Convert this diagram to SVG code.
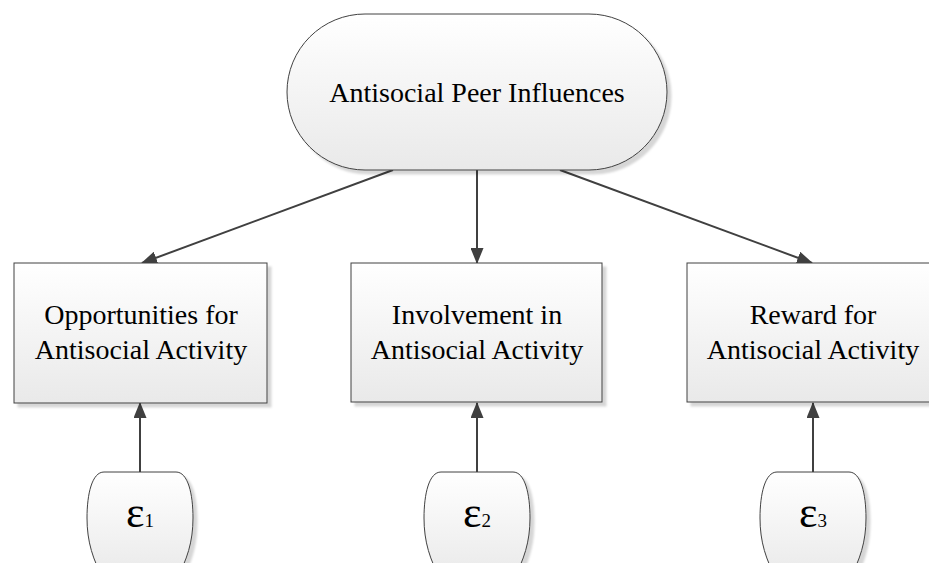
<svg xmlns="http://www.w3.org/2000/svg" width="929" height="563" viewBox="0 0 929 563">
  <defs>
    <linearGradient id="nodeFill" x1="0" y1="0" x2="0" y2="1">
      <stop offset="0" stop-color="#ffffff"/>
      <stop offset="1" stop-color="#e9e9e9"/>
    </linearGradient>
    <filter id="shadow" x="-10%" y="-10%" width="130%" height="130%">
      <feGaussianBlur in="SourceAlpha" stdDeviation="1.2"/>
      <feOffset dx="4" dy="4" result="off"/>
      <feFlood flood-color="#000000" flood-opacity="0.16"/>
      <feComposite in2="off" operator="in"/>
      <feMerge>
        <feMergeNode/>
        <feMergeNode in="SourceGraphic"/>
      </feMerge>
    </filter>
    <marker id="arrow" viewBox="0 0 16 13" refX="15" refY="6.5" markerWidth="16" markerHeight="13" markerUnits="userSpaceOnUse" orient="auto">
      <path d="M0,0 L16,6.5 L0,13 Z" fill="#404040"/>
    </marker>
  </defs>
  <style>
    .shape { fill: url(#nodeFill); stroke: #404040; stroke-width: 1; filter: url(#shadow); }
    .edge { stroke: #404040; stroke-width: 2; fill: none; marker-end: url(#arrow); }
  </style>

  <rect width="929" height="563" fill="#ffffff"/>

  <!-- connectors -->
  <g id="connectors">
    <line class="edge" x1="393" y1="170" x2="142" y2="263"/>
    <line class="edge" x1="477" y1="170" x2="477" y2="263"/>
    <line class="edge" x1="560" y1="170" x2="812" y2="263"/>
    <line class="edge" x1="140" y1="472" x2="140" y2="403"/>
    <line class="edge" x1="477" y1="472" x2="477" y2="403"/>
    <line class="edge" x1="813" y1="472" x2="813" y2="403"/>
  </g>

  <g font-family="Liberation Serif, Times New Roman, serif" font-size="28" fill="#000000" text-anchor="middle">
    <!-- latent factor -->
    <g id="peer-influences">
      <rect class="shape" x="287" y="14" width="380" height="156" rx="78" ry="78"/>
      <text x="477" y="102">Antisocial Peer Influences</text>
    </g>

    <!-- indicators -->
    <g id="opportunities">
      <rect class="shape" x="14" y="263" width="253" height="140"/>
      <text x="141" y="324">Opportunities for</text>
      <text x="141" y="359">Antisocial Activity</text>
    </g>
    <g id="involvement">
      <rect class="shape" x="351" y="263" width="251" height="139"/>
      <text x="477" y="324">Involvement in</text>
      <text x="477" y="359">Antisocial Activity</text>
    </g>
    <g id="reward">
      <rect class="shape" x="687" y="263" width="253" height="139"/>
      <text x="813" y="324">Reward for</text>
      <text x="813" y="359">Antisocial Activity</text>
    </g>

    <!-- error terms -->
    <g id="error-1">
      <path class="shape" d="M104,472 H176 C188,472 193,494 193,518 C193,542 187,560 176,580 H104 C93,560 87,542 87,518 C87,494 92,472 104,472 Z"/>
      <text x="140" y="527" font-size="44">ε<tspan font-size="19">1</tspan></text>
    </g>
    <g id="error-2">
      <path class="shape" d="M441,472 H513 C525,472 530,494 530,518 C530,542 524,560 513,580 H441 C430,560 424,542 424,518 C424,494 429,472 441,472 Z"/>
      <text x="477" y="527" font-size="44">ε<tspan font-size="19">2</tspan></text>
    </g>
    <g id="error-3">
      <path class="shape" d="M777,472 H849 C861,472 866,494 866,518 C866,542 860,560 849,580 H777 C766,560 760,542 760,518 C760,494 765,472 777,472 Z"/>
      <text x="813" y="527" font-size="44">ε<tspan font-size="19">3</tspan></text>
    </g>
  </g>
</svg>
